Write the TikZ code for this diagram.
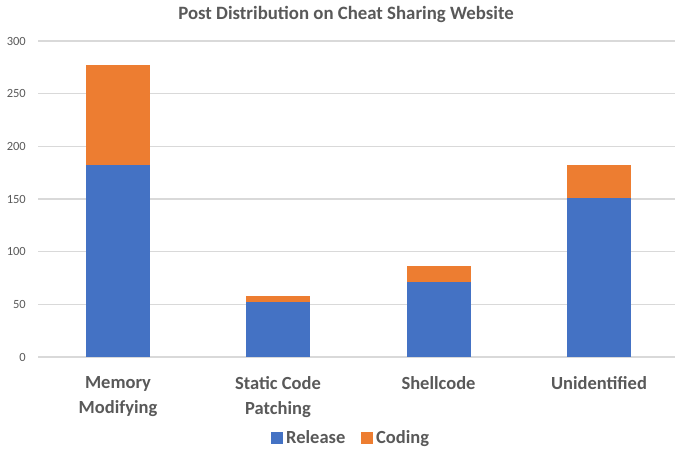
\documentclass[tikz,border=0pt]{standalone}
\usepackage{fontspec}
\setmainfont{Carlito}
\definecolor{rel}{HTML}{4472C4}
\definecolor{cod}{HTML}{ED7D31}
\definecolor{grid}{HTML}{D9D9D9}
\definecolor{txt}{HTML}{595959}
\begin{document}
\begin{tikzpicture}[x=1pt,y=-1pt,
  gridline/.style={grid,line width=1.2pt},
  ticklab/.style={anchor=east,text=txt,font=\fontsize{12.5}{14}\selectfont,inner sep=0pt},
  catlab/.style={anchor=north,text=txt,font=\bfseries\fontsize{18.5}{24.5}\selectfont,align=center,inner sep=0pt},
  legtext/.style={anchor=base west,text=txt,font=\bfseries\fontsize{18.5}{20}\selectfont,inner sep=0pt},
  relbar/.style={fill=rel,draw=none},
  codbar/.style={fill=cod,draw=none}]
\useasboundingbox (0,0) rectangle (675,448);
\fill[white] (0,0) rectangle (675,448);
% title
\node[anchor=base,text=txt,font=\bfseries\fontsize{18.8}{22}\selectfont,inner sep=0pt] (title) at (346,19.5) {Post Distribution on Cheat Sharing Website};
% gridlines and tick labels
\foreach \v in {0,50,...,300}{
  \draw[gridline] (38,{357-\v*1.05333}) -- (675,{357-\v*1.05333});
  \node[ticklab] (t\v) at (26,{357-\v*1.05333}) {\v};
}
% bars
\newcommand{\ybar}[1]{357-#1*1.05333}
\fill[relbar] (86,357) rectangle (150,{\ybar{182}});
\fill[codbar] (86,{\ybar{182}}) rectangle (150,{\ybar{277}});
\fill[relbar] (246,357) rectangle (310,{\ybar{52.5}});
\fill[codbar] (246,{\ybar{52.5}}) rectangle (310,{\ybar{58}});
\fill[relbar] (406.5,357) rectangle (470.5,{\ybar{71}});
\fill[codbar] (406.5,{\ybar{71}}) rectangle (470.5,{\ybar{86}});
\fill[relbar] (567,357) rectangle (631,{\ybar{151}});
\fill[codbar] (567,{\ybar{151}}) rectangle (631,{\ybar{182.5}});
% category labels
\node[catlab] (c1) at (118,376.5) {Memory\\Modifying};
\node[catlab] (c2) at (278,376.5) {Static Code\\Patching};
\node[catlab] (c3) at (438.5,376.5) {Shellcode};
\node[catlab] (c4) at (599,376.5) {Unidentified};
% legend
\fill[rel] (271,432) rectangle (282.5,443.5);
\node[legtext] (lr) at (286,443.5) {Release};
\fill[cod] (361,432) rectangle (372.5,443.5);
\node[legtext] (lc) at (376,443.5) {Coding};
\end{tikzpicture}
\end{document}
